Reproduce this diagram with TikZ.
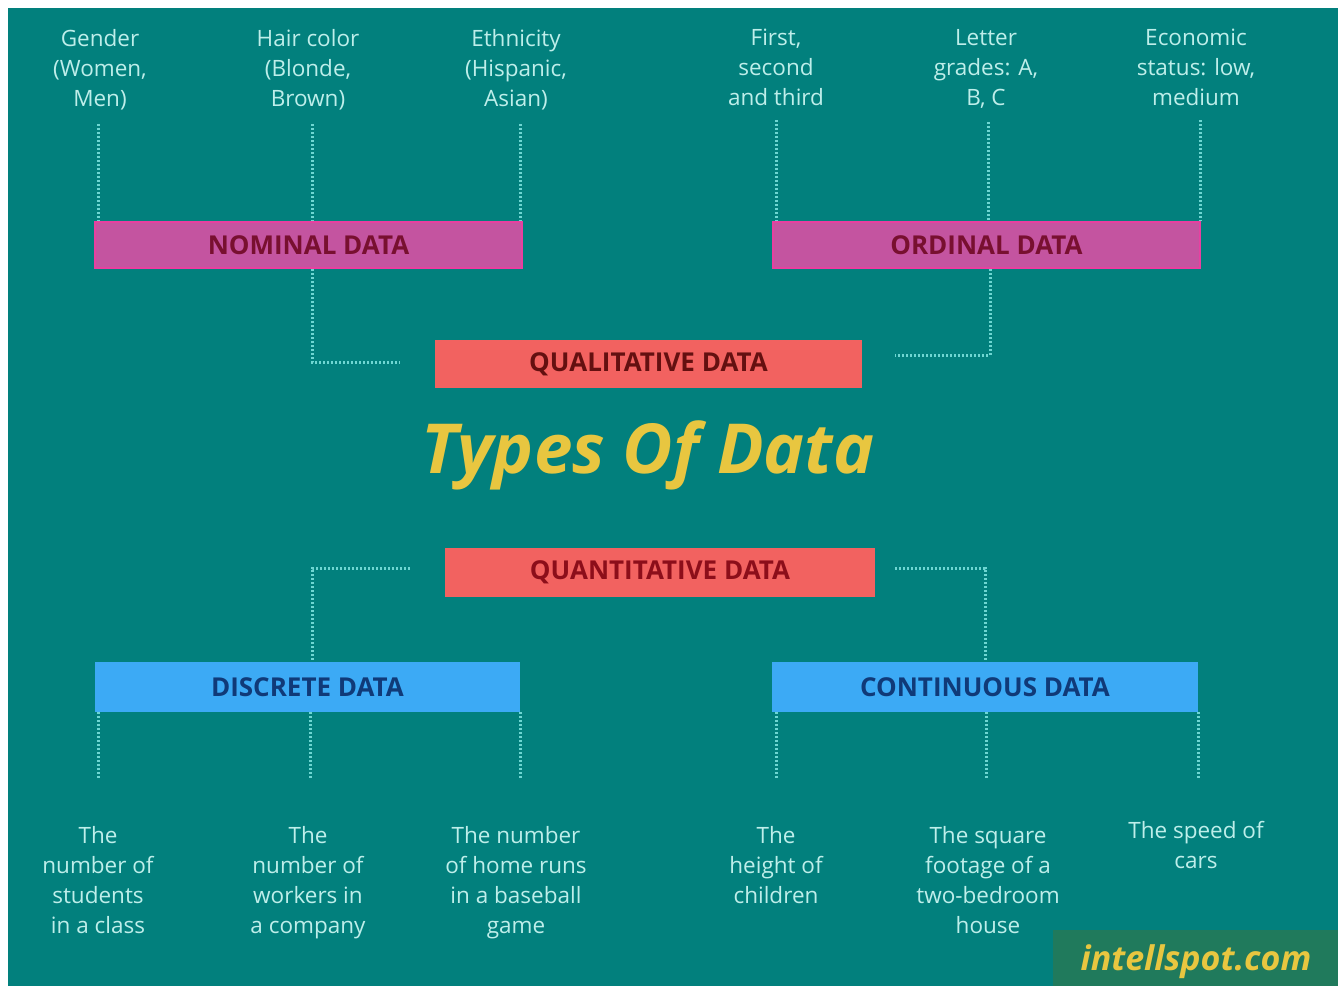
\documentclass[tikz,border=0pt]{standalone}
\usepackage{fontspec}
\setmainfont{Open Sans}
\definecolor{bgteal}{RGB}{2,128,125}
\definecolor{labelcol}{RGB}{190,238,234}
\definecolor{dotcol}{RGB}{110,214,210}
\definecolor{nomfill}{RGB}{196,84,160}
\definecolor{nomedge}{RGB}{232,64,160}
\definecolor{nomtext}{RGB}{120,16,48}
\definecolor{qualfill}{RGB}{242,98,96}
\definecolor{qualtext}{RGB}{100,16,16}
\definecolor{quanttext}{RGB}{140,14,26}
\definecolor{bluefill}{RGB}{60,170,245}
\definecolor{bluetext}{RGB}{16,58,120}
\definecolor{titleyellow}{RGB}{232,198,64}
\definecolor{logobg}{RGB}{32,122,92}
\begin{document}
\begin{tikzpicture}[x=1pt,y=-1pt,
  lbl/.style={text=labelcol, font=\fontsize{22.5}{30}\selectfont, align=center, anchor=north, inner sep=0pt},
  catbox/.style={minimum width=427pt, minimum height=46pt, inner sep=0pt, font=\fontsize{26}{30}\selectfont\bfseries},
  nombox/.style={catbox, fill=nomfill, draw=nomedge, line width=2pt, text=nomtext},
  qualbox/.style={catbox, fill=qualfill, text=qualtext, minimum height=48pt},
  bluebox/.style={catbox, fill=bluefill, text=bluetext, minimum height=50pt, minimum width=425pt},
  dotline/.style={draw=dotcol, line width=3pt, dash pattern=on 2pt off 2pt}
]
\useasboundingbox (0,0) rectangle (1338,986);
\fill[white] (0,0) rectangle (1338,986);
\fill[bgteal] (8,8) rectangle (1338,986);

% top labels
\node[lbl] (t1) at (100,29) {Gender\\(Women,\\Men)};
\node[lbl] (t2) at (308,29) {Hair color\\(Blonde,\\Brown)};
\node[lbl] (t3) at (516,29) {Ethnicity\\(Hispanic,\\Asian)};
\node[lbl] (t4) at (776,29) {First,\\second\\and third};
\node[lbl] (t5) at (986,29) {Letter\\grades: A,\\B, C};
\node[lbl] (t6) at (1196,29) {Economic\\status: low,\\medium};

% category boxes
\node[nombox] (nom) at (308.5,245) {NOMINAL DATA};
\node[nombox] (ord) at (986.5,245) {ORDINAL DATA};
\node[qualbox] (qual) at (648.5,364) {QUALITATIVE DATA};
\node[text=titleyellow, font=\fontsize{69}{72}\selectfont\bfseries\itshape] (title) at (648,455) {Types Of Data};
\node[qualbox, minimum width=430pt, minimum height=49pt, text=quanttext] (quant) at (660,572) {QUANTITATIVE DATA};
\node[bluebox] (disc) at (307.5,687) {DISCRETE DATA};
\node[bluebox, minimum width=426pt] (cont) at (985,687) {CONTINUOUS DATA};

% bottom labels
\node[lbl] (b1) at (98,826) {The\\number of\\students\\in a class};
\node[lbl] (b2) at (308,826) {The\\number of\\workers in\\a company};
\node[lbl] (b3) at (516,826) {The number\\of home runs\\in a baseball\\game};
\node[lbl] (b4) at (776,826) {The\\height of\\children};
\node[lbl] (b5) at (988,826) {The square\\footage of a\\two-bedroom\\house};
\node[lbl] (b6) at (1196,821) {The speed of\\cars};

% connectors top
\draw[dotline, shorten <=14pt] (t1.south -| 98,0) -- (98,0 |- nom.north);
\draw[dotline, shorten <=14pt] (t2.south -| 312,0) -- (312,0 |- nom.north);
\draw[dotline, shorten <=14pt] (t3.south -| 520,0) -- (520,0 |- nom.north);
\draw[dotline, shorten <=14pt] (t4.south -| 776,0) -- (776,0 |- ord.north);
\draw[dotline, shorten <=14pt] (t5.south -| 988,0) -- (988,0 |- ord.north);
\draw[dotline, shorten <=14pt] (t6.south -| 1200,0) -- (1200,0 |- ord.north);

% to qualitative
\draw[dotline] (nom.south -| 312,0) |- ([xshift=-35pt,yshift=2pt]qual.west);
\draw[dotline] (ord.south -| 990,0) |- ([xshift=33pt,yshift=9pt]qual.east);

% from quantitative
\draw[dotline] ([xshift=-35pt,yshift=4pt]quant.west) -| (disc.north -| 312,0);
\draw[dotline] ([xshift=20pt,yshift=4pt]quant.east) -| (cont.north -| 985,0);

% connectors bottom
\draw[dotline, shorten >=46pt] (disc.south -| 98,0) -- (b1.north -| 98,0);
\draw[dotline, shorten >=46pt] (disc.south -| 310,0) -- (b2.north -| 310,0);
\draw[dotline, shorten >=46pt] (disc.south -| 520,0) -- (b3.north -| 520,0);
\draw[dotline, shorten >=46pt] (cont.south -| 776,0) -- (b4.north -| 776,0);
\draw[dotline, shorten >=46pt] (cont.south -| 986,0) -- (b5.north -| 986,0);
\draw[dotline, shorten >=41pt] (cont.south -| 1198,0) -- (b6.north -| 1198,0);

% logo
\fill[logobg] (1053,930) rectangle (1338,986);
\node[text=titleyellow, font=\fontsize{34}{36}\selectfont\bfseries\itshape] (logo) at (1196,962) {intellspot.com};
\end{tikzpicture}
\end{document}
